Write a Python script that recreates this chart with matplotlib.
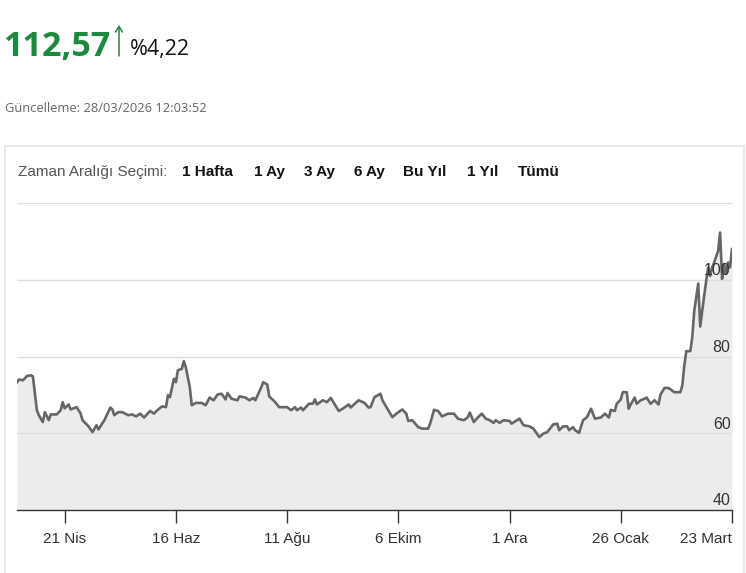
import matplotlib
matplotlib.use("Agg")
import matplotlib.pyplot as plt
from matplotlib.patches import Rectangle, FancyArrowPatch
import pandas as pd

# ---------------- data ----------------
dates = [
    "2025-03-28", "2025-03-29", "2025-03-31", "2025-04-02", "2025-04-04", "2025-04-05",
    "2025-04-07", "2025-04-08", "2025-04-10", "2025-04-11", "2025-04-13", "2025-04-14",
    "2025-04-17", "2025-04-19", "2025-04-20", "2025-04-21", "2025-04-23", "2025-04-24",
    "2025-04-27", "2025-04-29", "2025-04-30", "2025-05-03", "2025-05-05", "2025-05-07",
    "2025-05-08", "2025-05-11", "2025-05-14", "2025-05-15", "2025-05-16", "2025-05-18",
    "2025-05-20", "2025-05-23", "2025-05-25", "2025-05-27", "2025-05-29", "2025-05-31",
    "2025-06-03", "2025-06-05", "2025-06-06", "2025-06-09", "2025-06-11", "2025-06-12",
    "2025-06-13", "2025-06-15", "2025-06-16", "2025-06-17", "2025-06-19", "2025-06-20",
    "2025-06-21", "2025-06-23", "2025-06-24", "2025-06-26", "2025-06-29", "2025-07-01",
    "2025-07-03", "2025-07-05", "2025-07-07", "2025-07-09", "2025-07-11", "2025-07-12",
    "2025-07-14", "2025-07-17", "2025-07-18", "2025-07-21", "2025-07-23", "2025-07-25",
    "2025-07-26", "2025-07-29", "2025-07-30", "2025-08-01", "2025-08-02", "2025-08-05",
    "2025-08-07", "2025-08-11", "2025-08-13", "2025-08-15", "2025-08-16", "2025-08-18",
    "2025-08-19", "2025-08-22", "2025-08-24", "2025-08-25", "2025-08-26", "2025-08-29",
    "2025-08-31", "2025-09-02", "2025-09-04", "2025-09-06", "2025-09-08", "2025-09-11",
    "2025-09-12", "2025-09-16", "2025-09-19", "2025-09-21", "2025-09-22", "2025-09-24",
    "2025-09-27", "2025-09-28", "2025-09-30", "2025-10-03", "2025-10-05", "2025-10-08",
    "2025-10-10", "2025-10-11", "2025-10-13", "2025-10-16", "2025-10-18", "2025-10-21",
    "2025-10-22", "2025-10-24", "2025-10-26", "2025-10-28", "2025-10-31", "2025-11-03",
    "2025-11-05", "2025-11-08", "2025-11-10", "2025-11-11", "2025-11-13", "2025-11-15",
    "2025-11-17", "2025-11-19", "2025-11-21", "2025-11-23", "2025-11-24", "2025-11-26",
    "2025-11-28", "2025-12-01", "2025-12-02", "2025-12-06", "2025-12-08", "2025-12-11",
    "2025-12-13", "2025-12-16", "2025-12-18", "2025-12-20", "2025-12-23", "2025-12-25",
    "2025-12-26", "2025-12-28", "2025-12-30", "2025-12-31", "2026-01-02", "2026-01-03",
    "2026-01-05", "2026-01-07", "2026-01-09", "2026-01-11", "2026-01-13", "2026-01-16",
    "2026-01-18", "2026-01-20", "2026-01-21", "2026-01-23", "2026-01-24", "2026-01-26",
    "2026-01-27", "2026-01-29", "2026-01-30", "2026-01-31", "2026-02-02", "2026-02-03",
    "2026-02-05", "2026-02-07", "2026-02-08", "2026-02-10", "2026-02-12", "2026-02-14",
    "2026-02-15", "2026-02-17", "2026-02-19", "2026-02-22", "2026-02-25", "2026-02-26",
    "2026-02-27", "2026-02-28", "2026-03-02", "2026-03-03", "2026-03-04", "2026-03-06",
    "2026-03-07", "2026-03-08", "2026-03-10", "2026-03-11", "2026-03-12", "2026-03-13",
    "2026-03-14", "2026-03-16", "2026-03-17", "2026-03-18", "2026-03-19", "2026-03-20",
    "2026-03-21", "2026-03-22", "2026-03-23",
]
values = [
    73.3, 74.0, 73.8, 74.9, 75.1, 74.8,
    66.0, 64.7, 62.9, 65.5, 63.4, 64.9,
    64.9, 66.0, 68.1, 66.5, 67.5, 66.2,
    66.8, 65.2, 63.4, 61.8, 60.3, 62.1,
    61.0, 63.4, 66.7, 66.2, 64.7, 65.5,
    65.5, 64.7, 64.9, 64.4, 65.1, 64.1,
    65.8, 65.1, 65.7, 67.0, 66.8, 69.9,
    69.4, 74.2, 73.3, 76.4, 76.8, 78.8,
    77.2, 72.0, 67.3, 67.9, 67.9, 67.3,
    69.3, 68.6, 70.1, 70.3, 68.8, 70.5,
    69.0, 68.6, 69.6, 69.3, 68.6, 69.2,
    68.6, 72.0, 73.3, 72.7, 69.6, 68.1,
    66.8, 66.8, 66.0, 66.8, 66.0, 66.7,
    66.0, 67.7, 67.7, 68.8, 67.5, 68.6,
    68.1, 69.2, 67.5, 65.8, 66.4, 67.5,
    66.7, 68.6, 67.9, 66.7, 66.8, 69.4,
    70.3, 68.6, 66.8, 64.2, 65.1, 66.2,
    65.1, 63.2, 63.4, 61.6, 61.2, 61.2,
    62.5, 66.1, 65.8, 64.4, 65.1, 65.1,
    63.8, 63.4, 64.2, 65.4, 62.9, 64.1,
    65.1, 63.8, 63.4, 62.7, 63.4, 62.7,
    63.4, 63.2, 62.5, 63.8, 62.1, 61.8,
    61.2, 59.0, 59.9, 60.3, 62.3, 62.5,
    60.8, 61.8, 61.8, 60.8, 61.6, 60.8,
    60.1, 63.4, 64.2, 66.4, 63.8, 64.1,
    65.1, 64.1, 66.1, 65.8, 67.7, 68.8,
    70.7, 70.7, 66.4, 67.5, 69.3, 67.7,
    68.6, 69.0, 69.3, 67.7, 68.6, 67.5,
    70.1, 71.8, 71.8, 70.7, 70.7, 72.5,
    77.7, 81.4, 81.4, 85.0, 91.9, 99.0,
    87.8, 91.9, 99.7, 103.2, 101.0, 103.2,
    104.5, 107.5, 112.3, 100.2, 104.1, 101.5,
    104.5, 103.2, 108.0,
]

tick_dates = ["2025-04-21", "2025-06-16", "2025-08-11", "2025-10-06",
              "2025-12-01", "2026-01-26", "2026-03-23"]
tick_labels = ["21 Nis", "16 Haz", "11 Ağu", "6 Ekim", "1 Ara", "26 Ocak", "23 Mart"]
y_ticks = [40, 60, 80, 100]
y_grid = [60, 80, 100, 120]

price_text = "112,57"
change_text = "%4,22"
updated_text = "Güncelleme: 28/03/2026 12:03:52"
range_label = "Zaman Aralığı Seçimi:"
range_buttons = ["1 Hafta", "1 Ay", "3 Ay", "6 Ay", "Bu Yıl", "1 Yıl", "Tümü"]
button_x = [182, 254, 304, 354, 403, 467, 518]

# ---------------- figure ----------------
W, H = 746, 573
fig = plt.figure(figsize=(W / 100, H / 100), dpi=100)
fig.patch.set_facecolor("white")

def fx(px):
    return px / W

def fy(py):
    return 1 - py / H

narrow = ["Liberation Sans Narrow", "Liberation Sans", "DejaVu Sans"]
head = ["Open Sans", "DejaVu Sans"]
green = "#1b8a3f"

# header
fig.text(fx(4), fy(56), price_text, fontsize=24.5, fontweight="bold", color=green,
         family=head, va="baseline", ha="left")
fig.add_artist(FancyArrowPatch((fx(119), fy(56)), (fx(119), fy(25)),
                               transform=fig.transFigure, arrowstyle="->,head_length=4,head_width=2.5",
                               color=green, linewidth=1.1, mutation_scale=1,
                               shrinkA=0, shrinkB=0))
fig.text(fx(130), fy(55), change_text, fontsize=15.5, color="#111111",
         family=head, va="baseline", ha="left")
fig.text(fx(5), fy(109), updated_text, fontsize=9.3, color="#666666",
         family=head, va="center", ha="left")

# panel border
fig.patches.append(Rectangle((fx(5), fy(H + 5)), fx(739), (H + 5 - 146) / H,
                             transform=fig.transFigure, facecolor="white",
                             edgecolor="#e4e4e4", linewidth=1.2, zorder=-5))

fig.text(fx(18), fy(172), range_label, fontsize=11, color="#555555",
         family=narrow, va="center", ha="left")
for bx, lab in zip(button_x, range_buttons):
    fig.text(fx(bx), fy(172), lab, fontsize=11, color="#111111", fontweight="bold",
             family=narrow, va="center", ha="left")

# chart axes
left, right, top, bottom = 17, 732, 203, 510
ax = fig.add_axes([fx(left), fy(bottom), (right - left) / W, (bottom - top) / H])
ax.set_facecolor("none")
ax.set_zorder(5)

x = pd.to_datetime(dates)
ax.fill_between(x, values, 40, color="#ececec", linewidth=0, zorder=1)
for g in y_grid:
    ax.axhline(g, color="#dedede", linewidth=1.0, zorder=2)
ax.plot(x, values, color="#666666", linewidth=1.9, zorder=3,
        solid_joinstyle="round")

ax.set_xlim(x[0], x[-1])
ax.set_ylim(40, 120)

for s in ["top", "right", "left"]:
    ax.spines[s].set_visible(False)
ax.spines["bottom"].set_color("#333333")
ax.spines["bottom"].set_linewidth(1.0)

ax.set_xticks(pd.to_datetime(tick_dates))
ax.set_xticklabels(tick_labels)
ax.tick_params(axis="x", direction="out", length=9, width=1, color="#333333",
               labelsize=11, labelcolor="#333333", pad=7)
xlabels = ax.get_xticklabels()
for lab in xlabels:
    lab.set_family(narrow)
xlabels[-1].set_horizontalalignment("right")

ax.set_yticks([])
for v in y_ticks:
    ax.text(0.998, v + 0.4, str(v), transform=ax.get_yaxis_transform(), ha="right",
            va="bottom", fontsize=11.5, color="#333333", family=narrow, zorder=4)

fig.savefig("out.png", dpi=100)
